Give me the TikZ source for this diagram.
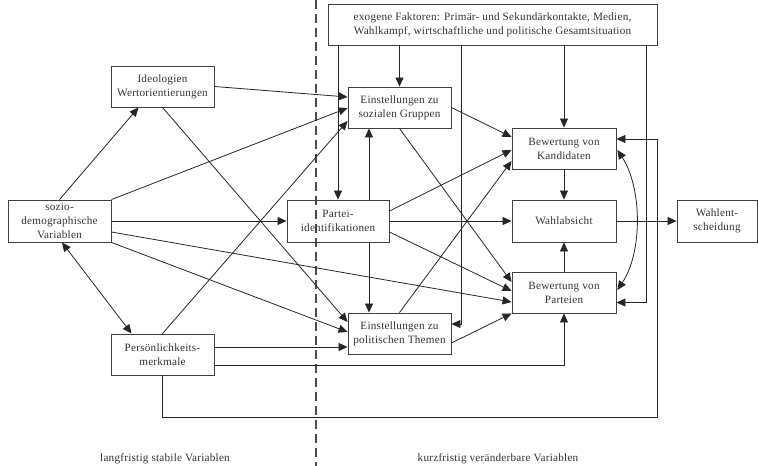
\documentclass[tikz,border=0pt]{standalone}
\usepackage{fontspec}
\setmainfont{Liberation Serif}[LetterSpace=2]
\usetikzlibrary{arrows.meta,calc}
\begin{document}
\begin{tikzpicture}[x=1pt,y=-1pt,
  box/.style={draw=black!75,line width=0.9pt,inner sep=0pt,align=center,
    text=black!80,font=\fontsize{11.2}{14}\selectfont,minimum height=41pt},
  arr/.style={draw=black!85,line width=0.8pt,-{Triangle[length=9pt,width=8pt]}},
  dbl/.style={draw=black!85,line width=0.8pt,{Triangle[length=9pt,width=8pt]}-{Triangle[length=9pt,width=8pt]}},
  ln/.style={draw=black!85,line width=0.8pt},
  lab/.style={text=black!80,font=\fontsize{11.2}{14}\selectfont}]
\useasboundingbox (0,0) rectangle (758,466);
% dashed divider
\coordinate (dtop) at (316,0);
\coordinate (dbot) at (316,466);
\draw[black!70,line width=1.5pt,dash pattern=on 9pt off 5pt] (dtop) -- (dbot);
% boxes
\node[box,minimum width=329pt] (exo) at (492.5,24.5) {exogene Faktoren: Primär- und Sekundärkontakte, Medien,\\Wahlkampf, wirtschaftliche und politische Gesamtsituation};
\node[box,minimum width=103pt] (ideo) at (162.5,86.5) {Ideologien\\Wertorientierungen};
\node[box,minimum width=103pt] (esoz) at (399.5,107.5) {Einstellungen zu\\sozialen Gruppen};
\node[box,minimum width=104pt] (kand) at (564,148.5) {Bewertung von\\Kandidaten};
\node[box,minimum width=102pt,minimum height=42pt] (pid) at (338,221) {Partei-\\identifikationen};
\node[box,minimum width=103pt,minimum height=42pt] (sozio) at (59.5,221) {sozio-\\demographische\\Variablen};
\node[box,minimum width=104pt,minimum height=42pt] (wabs) at (564,221) {Wahlabsicht};
\node[box,minimum width=80pt,minimum height=42pt] (went) at (717,221) {Wahlent-\\scheidung};
\node[box,minimum width=104pt] (part) at (564,292.5) {Bewertung von\\Parteien};
\node[box,minimum width=103pt] (epol) at (399.5,333.5) {Einstellungen zu\\politischen Themen};
\node[box,minimum width=103pt] (pers) at (162.5,354.5) {Persönlichkeits-\\merkmale};
% bottom labels
\node[lab] (l1) at (165,459) {langfristig stabile Variablen};
\node[lab] (l2) at (498,459) {kurzfristig veränderbare Variablen};
% connectors from sozio
\draw[arr] (sozio.north) -- ($(ideo.south)+(-24,0)$);
\draw[arr] (sozio.north east) -- ($(esoz.west)+(0,0.5)$);
\draw[arr] (sozio.east) -- (pid.west);
\draw[arr] ($(sozio.east)+(0,11)$) -- ($(part.west)+(0,9.5)$);
\draw[arr] (sozio.south east) -- ($(epol.west)+(0,-1.5)$);
\draw[dbl] ($(sozio.south)+(2.5,0)$) -- ($(pers.north west)+(21,0)$);
% ideologien
\draw[arr] (ideo.east) -- ($(esoz.west)+(0,-10.5)$);
\draw[arr] (ideo.south) -- ($(epol.west)+(0,-11.5)$);
% persoenlichkeit
\draw[arr] (pers.north) -- ($(esoz.west)+(0,13.5)$);
\draw[arr] ($(pers.east)+(0,-7.5)$) -- ($(epol.west)+(0,13.5)$);
\draw[arr] ($(pers.east)+(0,10.5)$) -| (part.south);
\draw[arr] (pers.south) -- ++(0,41.5) -| ($(kand.east)+(41,-9.5)$) -- ($(kand.east)+(0,-9.5)$);
% exogene
\draw[arr] (exo.south -| pid.north) -- (pid.north);
\draw[arr] (exo.south -| esoz.north) -- (esoz.north);
\draw[arr] (exo.south -| kand.north) -- (kand.north);
\coordinate (c1) at ($(epol.east)+(10,-9.5)$);
\draw[arr] (exo.south -| c1) -- (c1) -- ($(epol.east)+(0,-9.5)$);
\coordinate (c2) at ($(part.east)+(30,10)$);
\draw[arr] (exo.south -| c2) -- (c2) -- ($(part.east)+(0,10)$);
% partei-identifikation
\coordinate (p1) at ($(pid.north)+(31,0)$);
\coordinate (p2) at ($(pid.south)+(31,0)$);
\draw[arr] (p1) -- (p1 |- esoz.south);
\draw[arr] (p2) -- (p2 |- epol.north);
\draw[arr] ($(pid.east)+(0,-10)$) -- ($(kand.west)+(0,1.5)$);
\draw[arr] (pid.east) -- (wabs.west);
\draw[arr] ($(pid.east)+(0,11)$) -- ($(part.west)+(0,-1.5)$);
% einstellungen
\draw[arr] (esoz.east) -- ($(kand.west)+(0,-11.5)$);
\draw[arr] (esoz.south) -- ($(part.west)+(0,-10.5)$);
\draw[arr] (epol.north) -- ($(kand.west)+(0,12.5)$);
\draw[arr] ($(epol.east)+(0,9.5)$) -- (part.south west);
% bewertungen
\draw[arr] (kand.south) -- (wabs.north);
\draw[arr] (part.north) -- (wabs.south);
\draw[arr] (wabs.east) -- (went.west);
\draw[dbl] ($(kand.east)+(1,1.5)$) .. controls ($(kand.east)+(26,40)$) and ($(part.east)+(26,-40)$) .. ($(part.east)+(1,-2.5)$);
\end{tikzpicture}
\end{document}
